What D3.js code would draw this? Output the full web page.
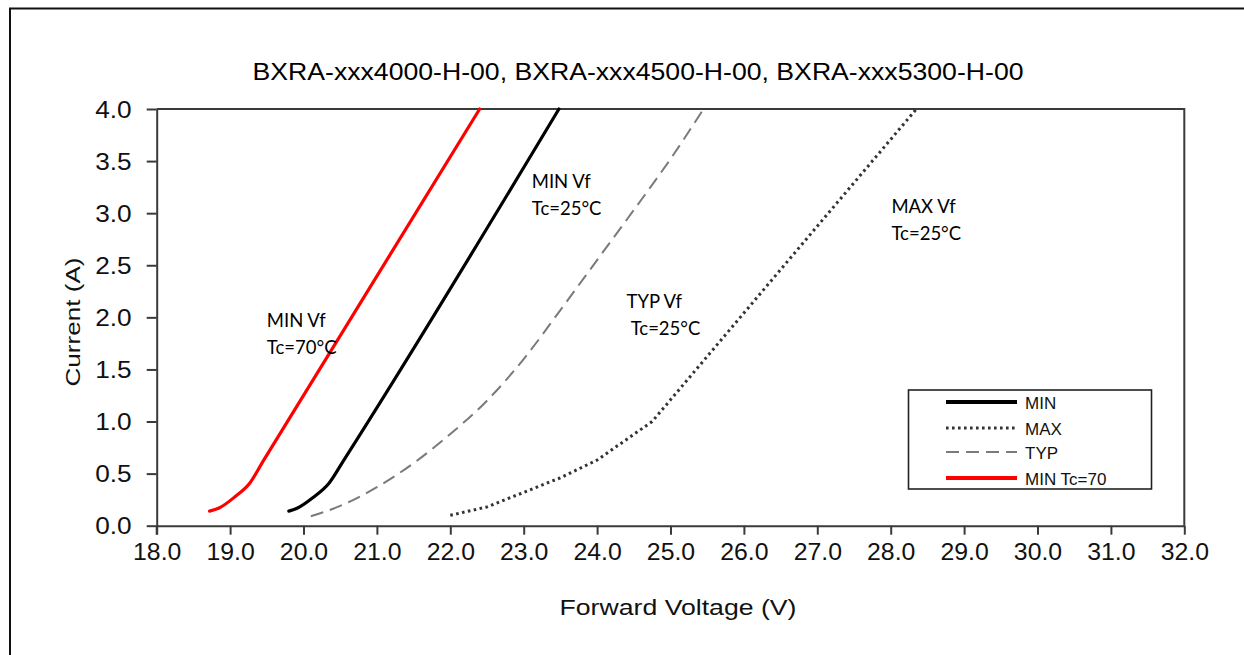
<!DOCTYPE html>
<html><head><meta charset="utf-8">
<script src="https://cdn.jsdelivr.net/npm/d3@7"></script>
<style>body{margin:0;background:#fff}svg{display:block}</style></head>
<body><svg id="c" width="1244" height="655"></svg>
<script>
// ---- data ----
const chartTitle = "BXRA-xxx4000-H-00, BXRA-xxx4500-H-00, BXRA-xxx5300-H-00";
const xLabel = "Forward  Voltage  (V)";
const yLabel = "Current  (A)";
const xTicks = [18,19,20,21,22,23,24,25,26,27,28,29,30,31,32];
const yTicks = [0,0.5,1,1.5,2,2.5,3,3.5,4];

const minV   = [19.8, 19.92, 20.13, 20.35, 20.55, 23.48];
const minI   = [0.14, 0.17, 0.27, 0.41, 0.63, 4.0];
const maxV   = [22.0, 22.5, 23.0, 23.5, 24.0, 24.75, 28.35];
const maxI   = [0.10, 0.18, 0.32, 0.46, 0.63, 1.0, 4.0];
const typV   = [20.1, 20.5, 21.0, 21.5, 22.0, 22.5, 23.0, 23.5, 24.0, 24.5, 25.0, 25.45];
const typI   = [0.09, 0.19, 0.37, 0.60, 0.88, 1.20, 1.60, 2.07, 2.55, 3.03, 3.52, 4.0];
const min70V = [18.72, 18.85, 19.07, 19.27, 19.45, 22.4];
const min70I = [0.14, 0.17, 0.28, 0.41, 0.62, 4.0];

const legendNames = ["MIN", "MAX", "TYP", "MIN Tc=70"];
const noteLines = [["MIN Vf","Tc=70°C"],["MIN Vf","Tc=25°C"],["TYP Vf"," Tc=25°C"],["MAX Vf","Tc=25°C"]];
const noteV = [19.5, 23.11, 24.4, 28.01];
const noteI = [1.907, 3.238, 2.086, 2.998];

// ---- layout ----
const svg = d3.select("#c");
const L = 156.7, R = 1184.3, T = 109, B = 525.7;
const x = d3.scaleLinear().domain([18,32]).range([L,R]);
const y = d3.scaleLinear().domain([0,4]).range([B,T]);
const axisColor = "#3a3a3a";

// outer frame (left + top)
svg.append("path").attr("d","M10,655 L10,8.5 L1244,8.5").attr("fill","none").attr("stroke","#111").attr("stroke-width",2);

// title
svg.append("text").attr("x",638).attr("y",80).attr("text-anchor","middle")
  .attr("font-family","Liberation Sans, Arial, sans-serif").attr("font-size",24)
  .attr("textLength",771).attr("lengthAdjust","spacingAndGlyphs").attr("fill","#000").text(chartTitle);

// plot frame top/right
svg.append("path").attr("d",`M${L},${T} L${R},${T} L${R},${B}`).attr("fill","none").attr("stroke",axisColor).attr("stroke-width",2);

// axes
const fmt = d3.format(".1f");
const gx = svg.append("g").attr("transform",`translate(0,${B})`)
  .call(d3.axisBottom(x).tickValues(xTicks).tickSize(9).tickSizeOuter(0).tickFormat(fmt));
const gy = svg.append("g").attr("transform",`translate(${L},0)`)
  .call(d3.axisLeft(y).tickValues(yTicks).tickSize(10).tickSizeOuter(0).tickFormat(fmt));
[gx,gy].forEach(g=>{
  g.select(".domain").attr("stroke",axisColor).attr("stroke-width",2);
  g.selectAll(".tick line").attr("stroke",axisColor).attr("stroke-width",2);
  g.selectAll(".tick text").attr("font-family","Liberation Sans, Arial, sans-serif").attr("font-size",23).attr("fill","#111");
});
gx.selectAll(".tick text").attr("y",0).attr("dy",0).attr("transform","translate(0,34) scale(1.08,1)");
gy.selectAll(".tick text").attr("x",0).attr("dy","0.35em").attr("transform","translate(-25,0) scale(1.14,1)");
// extend y axis down to tick length
svg.append("line").attr("x1",L).attr("x2",L).attr("y1",B).attr("y2",B+9).attr("stroke",axisColor).attr("stroke-width",2);

// axis labels
svg.append("text").attr("transform","translate(80,322) rotate(-90)").attr("text-anchor","middle")
  .attr("font-family","Liberation Sans, Arial, sans-serif").attr("font-size",21)
  .attr("textLength",129).attr("lengthAdjust","spacingAndGlyphs").attr("fill","#111").text(yLabel);
svg.append("text").attr("x",678).attr("y",615).attr("text-anchor","middle")
  .attr("font-family","Liberation Sans, Arial, sans-serif").attr("font-size",22)
  .attr("textLength",237).attr("lengthAdjust","spacingAndGlyphs").attr("fill","#111").text(xLabel);

// series
const styles = [
  {stroke:"#000", width:3.2, dash:null, cap:"round"},
  {stroke:"#333", width:3, dash:"2.6,3.4", cap:"butt"},
  {stroke:"#7a7a7a", width:2, dash:"13,7", cap:"butt"},
  {stroke:"#ff0000", width:3.2, dash:null, cap:"round"}
];
const series = [
  d3.zip(minV,minI), d3.zip(maxV,maxI), d3.zip(typV,typI), d3.zip(min70V,min70I)
];
const curves = [d3.curveMonotoneX, d3.curveLinear, d3.curveMonotoneX, d3.curveMonotoneX];
series.forEach((s,k)=>{
  const line = d3.line().x(d=>x(d[0])).y(d=>y(d[1])).curve(curves[k]);
  const p = svg.append("path").datum(s).attr("d",line).attr("fill","none")
    .attr("stroke",styles[k].stroke).attr("stroke-width",styles[k].width).attr("stroke-linecap",styles[k].cap)
    .attr("stroke-linejoin","round");
  if (styles[k].dash) p.attr("stroke-dasharray",styles[k].dash);
});

// annotations
noteLines.forEach((lines,k)=>{
  const t = svg.append("text").attr("font-family","Lato, 'Open Sans', sans-serif").attr("font-size",18.5).attr("fill","#000")
    .attr("x",x(noteV[k])).attr("y",y(noteI[k])).attr("xml:space","preserve");
  lines.forEach((ln,j)=>{
    t.append("tspan").attr("x",x(noteV[k])).attr("dy", j===0?0:26.5).text(ln);
  });
});

// legend
const lg = svg.append("g");
lg.append("rect").attr("x",908.5).attr("y",390).attr("width",243).attr("height",99)
  .attr("fill","#fff").attr("stroke","#222").attr("stroke-width",1.6);
const rowY = [402,428,452,478];
legendNames.forEach((name,k)=>{
  const l = lg.append("line").attr("x1",946).attr("x2",1017).attr("y1",rowY[k]).attr("y2",rowY[k])
    .attr("stroke",styles[k].stroke).attr("stroke-width",k===0||k===3?3.8:styles[k].width);
  if (styles[k].dash) l.attr("stroke-dasharray",styles[k].dash);
  lg.append("text").attr("x",1025).attr("y",rowY[k]+6.5).attr("font-family","Liberation Sans, Arial, sans-serif")
    .attr("font-size",17).attr("fill","#111").text(name);
});
</script></body></html>
